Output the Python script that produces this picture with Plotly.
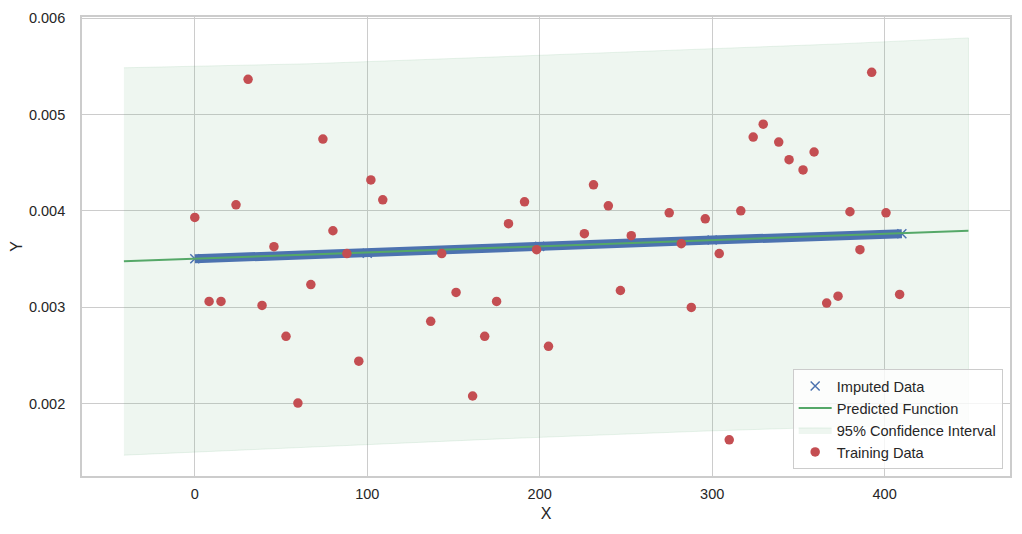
import plotly.graph_objects as go

# ---- data ----
train_x = [0, 8.3, 15.2, 23.9, 30.9, 39.0, 45.9, 52.9, 59.8, 67.3, 74.3, 80.1, 88.2, 95.1,
           102.1, 109.0, 136.8, 143.2, 151.5, 161.1, 168.1, 175.0, 181.9, 191.2, 198.2, 205.1,
           225.9, 231.2, 239.8, 246.8, 253.1, 275.1, 282.1, 287.9, 296.0, 304.1, 309.9, 316.6,
           323.8, 329.6, 338.6, 344.6, 352.7, 359.1, 366.4, 373.0, 379.9, 385.7, 392.5, 400.8, 408.7]
train_y = [0.003933, 0.003061, 0.003061, 0.004064, 0.005366, 0.003020, 0.003630, 0.002700,
           0.002007, 0.003237, 0.004746, 0.003795, 0.003558, 0.002441, 0.004322, 0.004116,
           0.002855, 0.003558, 0.003155, 0.002080, 0.002700, 0.003061, 0.003868, 0.004095,
           0.003599, 0.002596, 0.003764, 0.004271, 0.004054, 0.003175, 0.003744, 0.003981,
           0.003661, 0.002999, 0.003919, 0.003558, 0.001625, 0.004002, 0.004767, 0.004901,
           0.004715, 0.004532, 0.004426, 0.004612, 0.003044, 0.003116, 0.003992, 0.003599,
           0.005439, 0.003981, 0.003134]

imputed_x = [0, 100, 200, 300, 410]
imputed_y = [0.003504, 0.003561, 0.003633, 0.003698, 0.003764]

pred_x = [-41.1, 448.6]
pred_y = [0.003478, 0.003795]

ci_x = [-41.1, 66.6, 176.6, 292.3, 373.4, 448.6]
ci_upper = [0.005486, 0.005528, 0.005600, 0.005683, 0.005734, 0.005796]
ci_lower = [0.001466, 0.001548, 0.001635, 0.001714, 0.001760, 0.001790]

x_ticks = [0, 100, 200, 300, 400]
y_ticks = [0.002, 0.003, 0.004, 0.005, 0.006]

BLUE = "#4c72b0"
GREEN = "#55a868"
RED = "#c44e52"
TXT = "#262626"
FONT = "Liberation Sans, Arial, sans-serif"

fig = go.Figure()

# confidence interval band
fig.add_trace(go.Scatter(
    x=ci_x + ci_x[::-1], y=ci_upper + ci_lower[::-1],
    fill="toself", fillcolor="rgba(85,168,104,0.1)",
    line=dict(color="rgba(85,168,104,0.12)", width=1),
    mode="lines", name="95% Confidence Interval", legendrank=3, hoverinfo="skip"))

# imputed data band
fig.add_trace(go.Scatter(
    x=imputed_x, y=imputed_y, mode="lines+markers",
    line=dict(color=BLUE, width=9),
    marker=dict(symbol="x-thin", size=9, color=BLUE, line=dict(color=BLUE, width=1.5)),
    showlegend=False))
fig.add_trace(go.Scatter(
    x=[None], y=[None], mode="markers", name="Imputed Data", legendrank=1,
    marker=dict(symbol="x-thin", size=9, color=BLUE, line=dict(color=BLUE, width=1.5))))

# predicted function
fig.add_trace(go.Scatter(
    x=pred_x, y=pred_y, mode="lines", name="Predicted Function", legendrank=2,
    line=dict(color=GREEN, width=2)))

# training data
fig.add_trace(go.Scatter(
    x=train_x, y=train_y, mode="markers", name="Training Data", legendrank=4,
    marker=dict(symbol="circle", size=9.5, color=RED)))

axis_common = dict(
    showgrid=True, gridcolor="#cccccc", gridwidth=1,
    showline=True, linecolor="#cccccc", linewidth=1.7, mirror=True,
    zeroline=False, ticks="outside", tickcolor="rgba(0,0,0,0)",
    tickfont=dict(family=FONT, size=14.5, color=TXT),
)

fig.update_layout(
    width=1022, height=534,
    margin=dict(l=82, r=10, t=14, b=58),
    paper_bgcolor="white", plot_bgcolor="white",
    font=dict(family=FONT, color=TXT),
    xaxis=dict(range=[-65.4, 472.7], tickvals=x_ticks, ticklen=4,
               title=dict(text="X", font=dict(family=FONT, size=16, color=TXT), standoff=7),
               **axis_common),
    yaxis=dict(range=[0.00125, 0.006013], tickvals=y_ticks, tickformat=".3f", ticklen=12,
               title=dict(text="Y", font=dict(family=FONT, size=16, color=TXT), standoff=2),
               **axis_common),
    legend=dict(x=0.9921, y=0.0152, xanchor="right", yanchor="bottom",
                bgcolor="rgba(255,255,255,0.8)", bordercolor="#cccccc", borderwidth=1,
                itemwidth=33,
                font=dict(family=FONT, size=14.6, color=TXT)),
    showlegend=True,
)

fig.write_html("out.html")
